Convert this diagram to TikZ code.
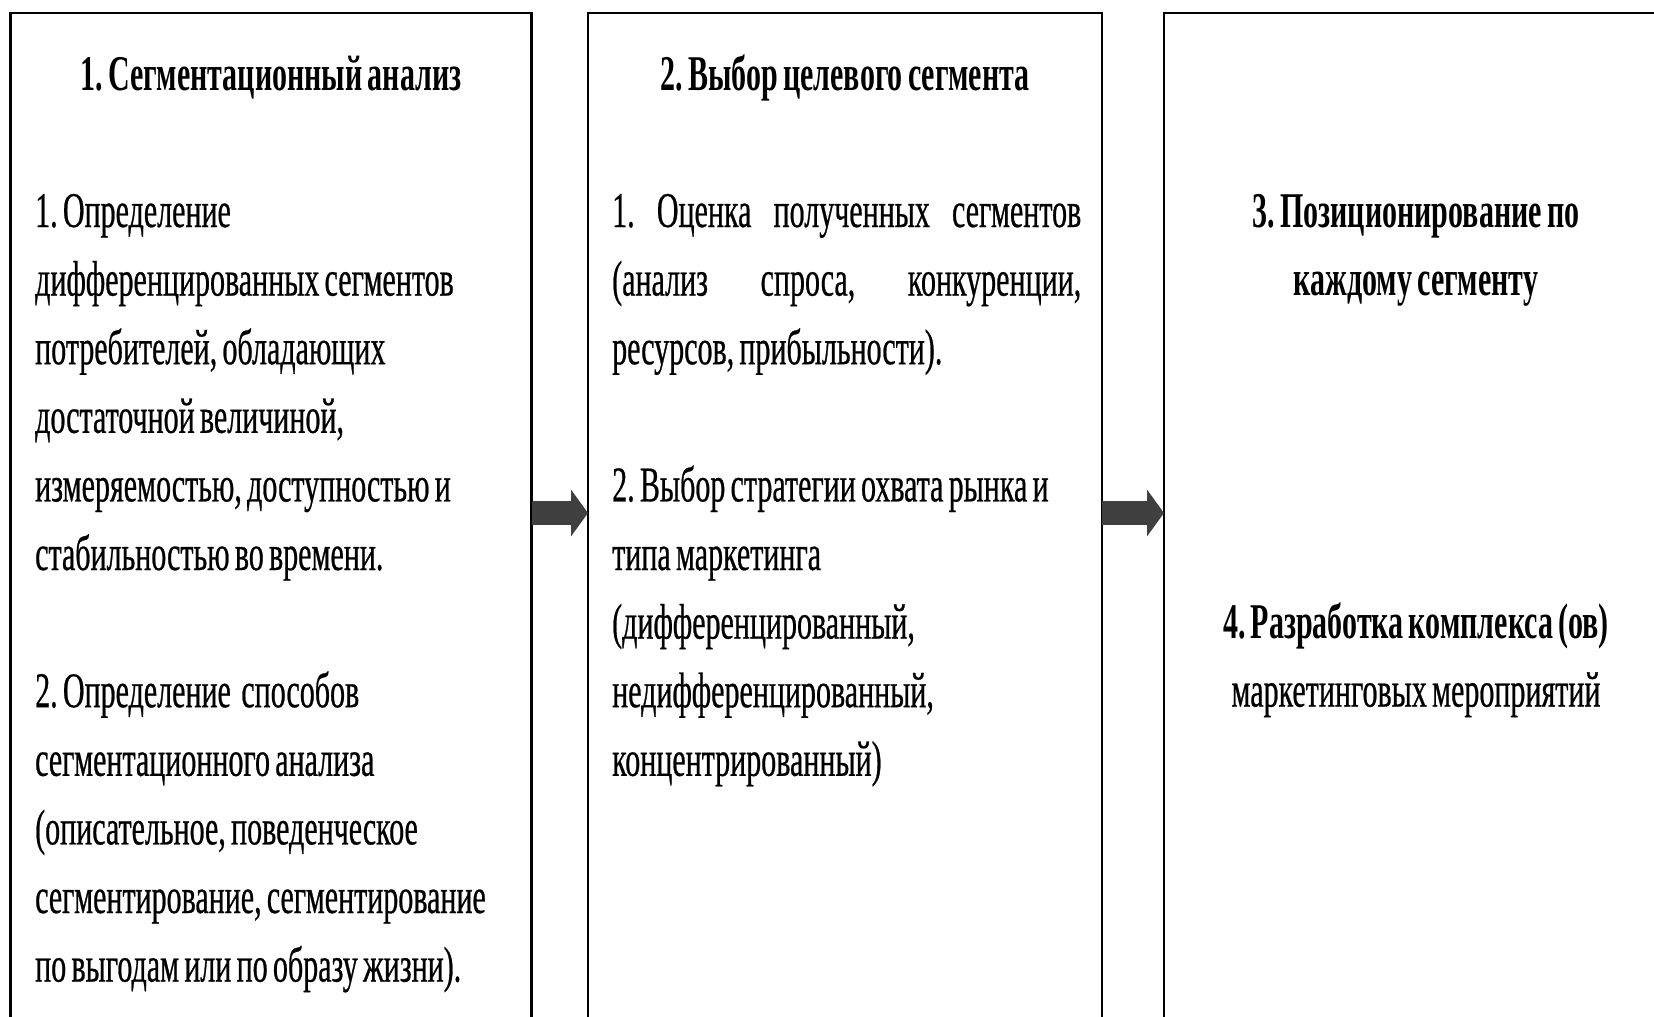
\documentclass[tikz,border=0pt]{standalone}
\usepackage{fontspec}
\setmainfont{Liberation Serif}[FakeStretch=0.6, WordSpace=0.7, UprightFeatures={FakeBold=0.5}]
\usetikzlibrary{arrows.meta}
\frenchspacing

\newcommand\txtsize{\fontsize{50}{68.6}\selectfont}
\tikzset{
	panel/.style={draw, line width=2.2pt, outer sep=0pt, inner sep=0pt,
		minimum height=1100pt, anchor=north west},
	title/.style={font=\txtsize\bfseries, anchor=base, inner sep=0pt, align=flush center},
	body/.style={font=\txtsize, anchor=base west, inner sep=0pt},
	fatarrow/.style={line width=24pt, draw=black!75, -{Triangle[length=17pt,width=46pt]}}
}

\begin{document}
\begin{tikzpicture}[x=1pt,y=-1pt]
		\useasboundingbox (0,0) rectangle (1654,1017);
		\clip (0,0) rectangle (1654,1017);
		% The three stages, open at the bottom edge
		\node[panel, minimum width=521pt] (seg) at (10.5,13) {};
		\node[panel, minimum width=514pt] (tgt) at (588,13) {};
		\node[panel, minimum width=504pt] (pos) at (1164,13) {};
		% Stage 1
		\node[title] (segtitle) at (seg.north |- 0,90) {1. Сегментационный анализ};
		\node[body, text width=495pt, align=flush left] (segtext) at (35,227) {1. Определение\\
			дифференцированных сегментов\\
			потребителей, обладающих\\
			достаточной величиной,\\
			измеряемостью, доступностью и\\
			стабильностью во времени.\\[68.6pt]
			2. Определение\ \ способов\\
			сегментационного анализа\\
			(описательное, поведенческое\\
			сегментирование, сегментирование\\
			по выгодам или по образу жизни).};
		% Stage 2
		\node[title] (tgttitle) at (tgt.north |- 0,90) {2. Выбор целевого сегмента};
		\node[body, text width=469pt, align=justify] (tgttext) at (612,227) {1. Оценка полученных сегментов\linebreak
			(анализ спроса, конкуренции,\linebreak
			ресурсов, прибыльности).\\[68.6pt]
			2. Выбор стратегии охвата рынка и\\
			типа маркетинга\\
			(дифференцированный,\\
			недифференцированный,\\
			концентрированный)};
		% Stage 3 and 4
		\node[title, text width=480pt] (postitle) at (pos.north |- 0,227) {3. Позиционирование по\\ каждому сегменту};
		\node[title, text width=480pt] (mixtitle) at (pos.north |- 0,638) {4. Разработка комплекса (ов)\\
			{\mdseries маркетинговых мероприятий}};
		% Block arrows between the stages
		\coordinate (lvl) at (0,513);
		\draw[fatarrow] (seg.east |- lvl) -- (tgt.west |- lvl);
		\draw[fatarrow] (tgt.east |- lvl) -- (pos.west |- lvl);
	\end{tikzpicture}
\end{document}
